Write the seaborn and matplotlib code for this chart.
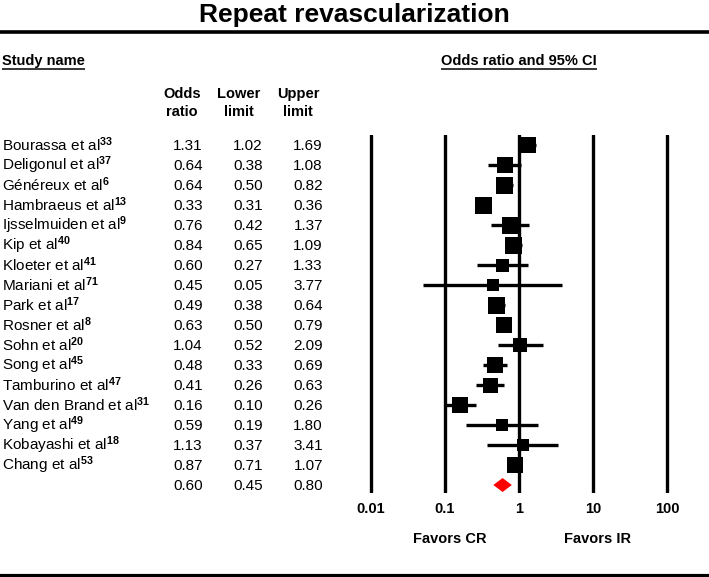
import numpy as np
import pandas as pd
import matplotlib
matplotlib.use("Agg")
import matplotlib.pyplot as plt
from matplotlib.patches import Polygon
from matplotlib.ticker import NullLocator
import seaborn as sns

# data
studies = ["Bourassa et al", "Deligonul et al", "Généreux et al", "Hambraeus et al",
           "Ijsselmuiden et al", "Kip et al", "Kloeter et al", "Mariani et al",
           "Park et al", "Rosner et al", "Sohn et al", "Song et al", "Tamburino et al",
           "Van den Brand et al", "Yang et al", "Kobayashi et al", "Chang et al"]
refs = ["33", "37", "6", "13", "9", "40", "41", "71", "17", "8", "20", "45", "47",
        "31", "49", "18", "53"]
odds_ratio = [1.31, 0.64, 0.64, 0.33, 0.76, 0.84, 0.60, 0.45, 0.49, 0.63, 1.04, 0.48,
              0.41, 0.16, 0.59, 1.13, 0.87]
lower_limit = [1.02, 0.38, 0.50, 0.31, 0.42, 0.65, 0.27, 0.05, 0.38, 0.50, 0.52, 0.33,
               0.26, 0.10, 0.19, 0.37, 0.71]
upper_limit = [1.69, 1.08, 0.82, 0.36, 1.37, 1.09, 1.33, 3.77, 0.64, 0.79, 2.09, 0.69,
               0.63, 0.26, 1.80, 3.41, 1.07]
# relative study weight (box size as drawn)
box_weight = [16, 16, 17, 17, 17, 17, 13, 12, 17, 16, 14, 16, 15, 16, 12, 12, 16]
pooled_or, pooled_lo, pooled_hi = 0.60, 0.45, 0.80
ticks = [0.01, 0.1, 1, 10, 100]
tick_labels = ["0.01", "0.1", "1", "10", "100"]

df = pd.DataFrame({"study": studies, "ref": refs, "odds": odds_ratio,
                   "lower": lower_limit, "upper": upper_limit, "weight": box_weight})
df["row"] = np.arange(len(df))
summary_row = len(df)

sns.set_theme(style="white")
plt.rcParams["font.family"] = ["Liberation Sans", "DejaVu Sans"]
plt.rcParams["text.color"] = "black"
plt.rcParams["xtick.color"] = "black"
plt.rcParams["axes.labelcolor"] = "black"
plt.rcParams["mathtext.fontset"] = "custom"
plt.rcParams["mathtext.rm"] = "Liberation Sans"
plt.rcParams["mathtext.it"] = "Liberation Sans:italic"
plt.rcParams["mathtext.bf"] = "Liberation Sans:bold"

W, H = 709, 577
fig = plt.figure(figsize=(W / 100, H / 100), dpi=100)
fig.patch.set_facecolor("white")
bg = fig.add_axes([0, 0, 1, 1])
bg.set_xlim(0, W)
bg.set_ylim(H, 0)
bg.axis("off")

# forest panel placement (pixels)
x0, x1, y0, y1 = 340, 700, 135, 493
dec_px, tick_lo_px, tick_hi_px = 74, 371, 667
row_px, first_row_px = 20, 145
ax = fig.add_axes([x0 / W, 1 - y1 / H, (x1 - x0) / W, (y1 - y0) / H])
ax.patch.set_alpha(0)
ax.set_xscale("log")

for t in ticks:
    ax.axvline(t, color="black", lw=2.4, zorder=1)
ax.hlines(df["row"], df["lower"], df["upper"], color="black", lw=2.4, zorder=2)
sns.scatterplot(data=df, x="odds", y="row", marker="s", s=(df["weight"] * 0.72) ** 2,
                color="black", linewidth=0, legend=False, ax=ax, zorder=3)
h = 0.35
ax.add_patch(Polygon([(pooled_lo, summary_row), (pooled_or, summary_row - h),
                      (pooled_hi, summary_row), (pooled_or, summary_row + h)],
                     closed=True, facecolor="#ff0000", edgecolor="none", zorder=3))

ax.set_xlim(10 ** (-2 - (tick_lo_px - x0) / dec_px), 10 ** (2 + (x1 - tick_hi_px) / dec_px))
ax.set_ylim((y1 - first_row_px) / row_px, (y0 - first_row_px) / row_px)
ax.set_xticks(ticks)
ax.set_xticklabels(tick_labels, fontsize=10.5, fontweight="bold", color="black")
ax.xaxis.set_minor_locator(NullLocator())
ax.tick_params(axis="x", length=0, pad=6.5, colors="black")
ax.set_yticks([])
ax.set_xlabel("")
ax.set_ylabel("")
for s in ax.spines.values():
    s.set_visible(False)

# title and rules
bg.text(354.5, 22, "Repeat revascularization", ha="center", va="baseline",
        fontsize=19, fontweight="bold")
bg.axhline(32, color="black", lw=2.6)
bg.axhline(575.5, color="black", lw=3)

# section headers with underlines
hdr_study = bg.text(2, 65, "Study name", fontsize=10.5, fontweight="bold", va="baseline")
hdr_ci = bg.text(519, 65, "Odds ratio and 95% CI", fontsize=10.5, fontweight="bold",
                 va="baseline", ha="center")
fig.canvas.draw()
renderer = fig.canvas.get_renderer()
inv = bg.transData.inverted()
for t in (hdr_study, hdr_ci):
    bb = t.get_window_extent(renderer)
    (xa, _), (xb, _) = inv.transform([(bb.x0, bb.y0), (bb.x1, bb.y0)])
    bg.plot([xa, xb], [69, 69], color="black", lw=1.1, solid_capstyle="butt")

# column headers
col_center = [182, 239, 298]
col_right = [203, 263, 323]
for cx, top, bottom in zip(col_center, ["Odds", "Lower", "Upper"], ["ratio", "limit", "limit"]):
    bg.text(cx, 98, top, ha="center", va="baseline", fontsize=10.5, fontweight="bold")
    bg.text(cx, 116, bottom, ha="center", va="baseline", fontsize=10.5, fontweight="bold")

# table rows
for i, r in df.iterrows():
    yb = first_row_px + row_px * r["row"] + 5.5
    bg.text(2, yb, r["study"] + r"$^{\mathbf{" + r["ref"] + "}}$", fontsize=11, va="baseline")
    for xr, v in zip(col_right, [r["odds"], r["lower"], r["upper"]]):
        bg.text(xr, yb, f"{v:.2f}", fontsize=11, va="baseline", ha="right")
yb = first_row_px + row_px * summary_row + 5.5
for xr, v in zip(col_right, [pooled_or, pooled_lo, pooled_hi]):
    bg.text(xr, yb, f"{v:.2f}", fontsize=11, va="baseline", ha="right")

bg.text(450, 543, "Favors CR", ha="center", va="baseline", fontsize=10.5, fontweight="bold")
bg.text(598, 543, "Favors IR", ha="center", va="baseline", fontsize=10.5, fontweight="bold")

fig.savefig("out.png", dpi=100, facecolor="white")
